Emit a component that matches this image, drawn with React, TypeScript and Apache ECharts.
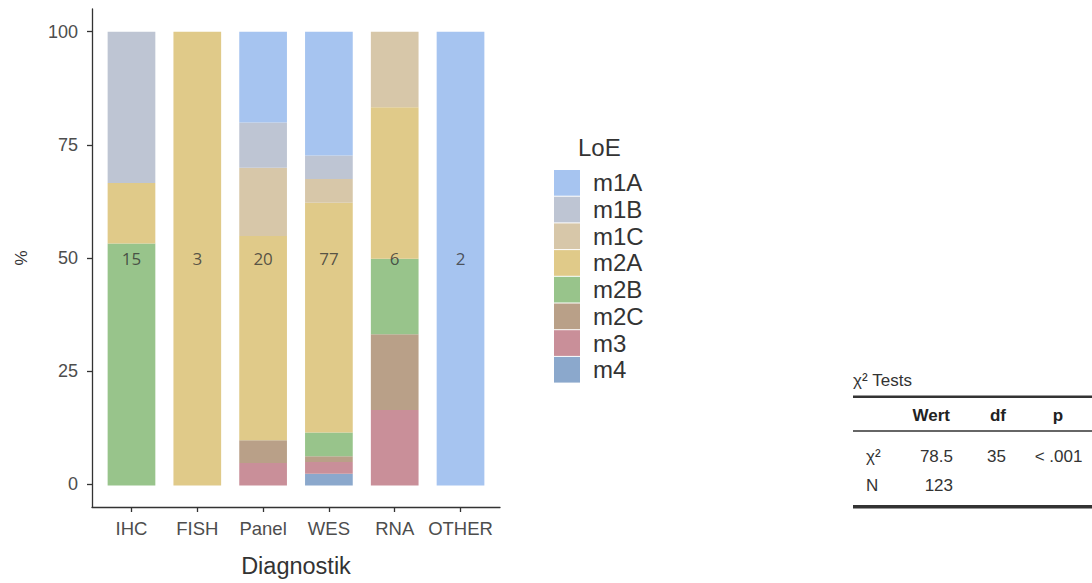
import React, { useEffect, useRef } from "react";
import * as echarts from "echarts";

// Diagnostic methods on the x axis
const categories = ["IHC", "FISH", "Panel", "WES", "RNA", "OTHER"];

// Level-of-evidence groups, legend order (top of stack first)
const loeLevels = ["m1A", "m1B", "m1C", "m2A", "m2B", "m2C", "m3", "m4"];

// Case counts per LoE level for each diagnostic method
const m1A = [0, 0, 4, 21, 0, 2];
const m1B = [5, 0, 2, 4, 0, 0];
const m1C = [0, 0, 3, 4, 1, 0];
const m2A = [2, 3, 9, 39, 2, 0];
const m2B = [8, 0, 0, 4, 1, 0];
const m2C = [0, 0, 1, 1, 1, 0];
const m3 = [0, 0, 1, 2, 1, 0];
const m4 = [0, 0, 0, 2, 0, 0];

const countsByLevel: Record<string, number[]> = { m1A, m1B, m1C, m2A, m2B, m2C, m3, m4 };

const levelColors: Record<string, string> = {
  m1A: "#a6c4f0",
  m1B: "#bec5d3",
  m1C: "#d7c7a9",
  m2A: "#e0ca89",
  m2B: "#98c48b",
  m2C: "#b9a088",
  m3: "#c98f99",
  m4: "#8ba8cc",
};

const yTicks = [0, 25, 50, 75, 100];
const xTickPositions = [1, 2, 3, 4, 5, 6];

// Chi-square test table
const chiHeader = ["Wert", "df", "p"];
const chiRow = ["78.5", "35", "< .001"];
const nValue = "123";

const SANS = "'Liberation Sans', Arial, Helvetica, sans-serif";

// Panel geometry: the axes span 0.6 band beyond the outer bars on each side
const AX_LEFT = 92;
const AX_WIDTH = 408;
const BAND = AX_WIDTH / 6.2;
const TOP = 9;
const HEIGHT = 499.3;

export default function App() {
  const ref = useRef<HTMLDivElement>(null);

  useEffect(() => {
    if (!ref.current) return;
    const chart = echarts.init(ref.current, null, { renderer: "svg" });

    const totals = categories.map((_, i) =>
      loeLevels.reduce((s, l) => s + countsByLevel[l][i], 0)
    );

    // bottom of the stack first
    const stackOrder = [...loeLevels].reverse();
    const barSeries = stackOrder.map((lvl) => ({
      name: lvl,
      type: "bar",
      stack: "loe",
      xAxisIndex: 0,
      yAxisIndex: 0,
      barWidth: 47.7,
      itemStyle: { color: levelColors[lvl] },
      emphasis: { disabled: true },
      data: countsByLevel[lvl].map((c, i) => (c / totals[i]) * 100),
    }));

    const labelSeries = {
      name: "n",
      type: "scatter",
      xAxisIndex: 0,
      yAxisIndex: 0,
      symbolSize: 1,
      itemStyle: { color: "rgba(0,0,0,0)" },
      z: 10,
      label: {
        show: true,
        position: "inside",
        fontFamily: "'Open Sans', sans-serif",
        fontSize: 17,
        color: "#333",
        formatter: (p: any) => String(totals[p.dataIndex]),
      },
      data: categories.map(() => 50),
    };

    const tx = (x: number, y: number, text: string, opts: any = {}) => ({
      type: "text",
      x,
      y,
      style: {
        text,
        fontFamily: SANS,
        fontSize: 17,
        fill: "#333",
        textVerticalAlign: "middle",
        ...opts,
      },
    });

    const hline = (y: number, w: number) => ({
      type: "rect",
      shape: { x: 853, y: y - w / 2, width: 240, height: w },
      style: { fill: "#333" },
    });

    const axisLineStyle = { color: "#333", width: 1.3 };

    chart.setOption({
      animation: false,
      grid: [
        // bars
        { left: AX_LEFT + 0.1 * BAND, top: TOP, width: 6 * BAND, height: HEIGHT, containLabel: false },
        // axis frame
        { left: AX_LEFT, top: TOP, width: AX_WIDTH, height: HEIGHT, containLabel: false },
      ],
      xAxis: [
        {
          gridIndex: 0,
          type: "category",
          data: categories,
          boundaryGap: true,
          axisLine: { show: false },
          axisTick: { show: false },
          axisLabel: { show: false },
        },
        {
          gridIndex: 1,
          type: "value",
          min: 0.4,
          max: 6.6,
          splitLine: { show: false },
          axisLine: { show: true, onZero: false, lineStyle: axisLineStyle },
          axisTick: { show: true, length: 5, customValues: xTickPositions, lineStyle: axisLineStyle },
          axisLabel: {
            customValues: xTickPositions,
            formatter: (v: number) => categories[Math.round(v) - 1] ?? "",
            fontFamily: SANS,
            fontSize: 18.5,
            color: "#4d4d4d",
            margin: 12,
          },
          name: "Diagnostik",
          nameLocation: "middle",
          nameGap: 47,
          nameTextStyle: { fontFamily: SANS, fontSize: 23.5, color: "#333" },
        },
      ],
      yAxis: [
        {
          gridIndex: 0,
          type: "value",
          min: -5,
          max: 105,
          splitLine: { show: false },
          axisLine: { show: false },
          axisTick: { show: false },
          axisLabel: { show: false },
        },
        {
          gridIndex: 1,
          type: "value",
          min: -5,
          max: 105,
          splitLine: { show: false },
          axisLine: { show: true, onZero: false, lineStyle: axisLineStyle },
          axisTick: { show: true, length: 5, customValues: yTicks, lineStyle: axisLineStyle },
          axisLabel: {
            customValues: yTicks,
            fontFamily: SANS,
            fontSize: 18,
            color: "#4d4d4d",
            margin: 14,
          },
          name: "%",
          nameLocation: "middle",
          nameGap: 62,
          nameTextStyle: { fontFamily: SANS, fontSize: 17, color: "#333" },
        },
      ],
      legend: {
        data: loeLevels,
        orient: "vertical",
        left: 554,
        top: 170,
        padding: 0,
        itemWidth: 26,
        itemHeight: 25.7,
        itemGap: 1,
        icon: "rect",
        selectedMode: false,
        textStyle: { fontFamily: SANS, fontSize: 24, color: "#333", padding: [0, 0, 0, 8] },
      },
      graphic: [
        tx(578, 147, "LoE", { fontSize: 24 }),
        tx(853, 380, "χ² Tests"),
        hline(396.7, 2.5),
        tx(950, 415, chiHeader[0], { fontWeight: "bold", textAlign: "right", fill: "#222" }),
        tx(1006, 415, chiHeader[1], { fontWeight: "bold", textAlign: "right", fill: "#222" }),
        tx(1058, 415, chiHeader[2], { fontWeight: "bold", textAlign: "center", fill: "#222" }),
        hline(431, 1.5),
        tx(866, 456, "χ²"),
        tx(953, 456, chiRow[0], { textAlign: "right" }),
        tx(1006, 456, chiRow[1], { textAlign: "right" }),
        tx(1058.5, 456, chiRow[2], { textAlign: "center" }),
        tx(866, 485, "N"),
        tx(953, 485, nValue, { textAlign: "right" }),
        hline(506.7, 3.5),
      ],
      series: [...barSeries, labelSeries],
    });

    return () => chart.dispose();
  }, []);

  return <div ref={ref} style={{ width: 1092, height: 583, position: "absolute", left: 0, top: 0 }} />;
}
